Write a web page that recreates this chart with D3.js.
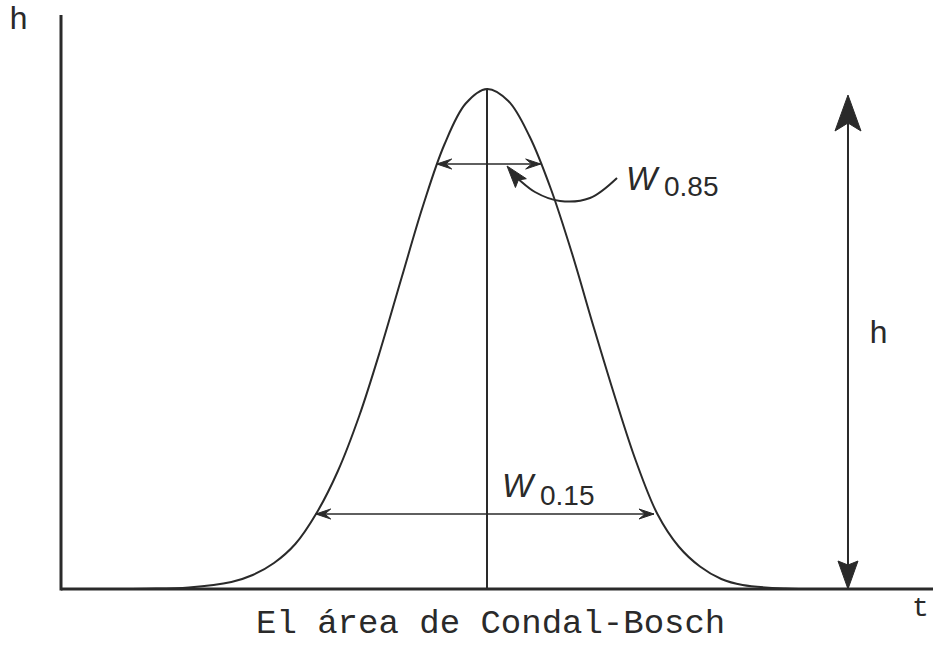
<!DOCTYPE html>
<html>
<head>
<meta charset="utf-8">
<script src="https://cdn.jsdelivr.net/npm/d3@7"></script>
<style>
  html, body { margin: 0; background: #fff; }
  svg { display: block; }
</style>
</head>
<body>
<svg id="chart" width="933" height="645"></svg>
<script>
// Chromatographic peak: time (arbitrary units) and relative height h
const curveT = [0.3, 1.0, 1.5, 2.0, 2.25, 2.5, 2.75, 3.0, 3.25, 3.5, 3.75, 4.0, 4.25, 4.5, 4.75,
                5.0, 5.25, 5.5, 5.75, 6.0, 6.25, 6.5, 6.75, 7.0, 7.25, 7.5, 7.75, 8.0, 8.5, 9.0];
const curveH = [0, 0.0005, 0.003, 0.014, 0.028, 0.052, 0.09, 0.152, 0.236, 0.346, 0.479, 0.624, 0.767, 0.889, 0.971,
                1.0, 0.976, 0.905, 0.80, 0.67, 0.525, 0.385, 0.255, 0.15, 0.085, 0.045, 0.02, 0.008, 0.001, 0];

// Peak apex position
const apexT = 5.0;
const apexH = 1.0;

// Widths measured at fractions of the peak height
const widthLevels = [0.85, 0.15];
const widthStart  = [4.41, 2.99];
const widthEnd    = [5.63, 6.96];
const widthNames  = ["0.85", "0.15"];

// Height marker (double arrow) on the right
const heightArrowT = 9.237;
const heightArrowH = [0, 0.988];

// Leader line from the W0.85 label to its arrow
const leaderT = [6.526, 6.209, 5.857, 5.563, 5.33];
const leaderH = [0.822, 0.782, 0.776, 0.794, 0.826];
const leaderTip = [5.235, 0.846];

const titleText = "El área de Condal-Bosch";
const yAxisLabel = "h";
const xAxisLabel = "t";
const heightLabel = "h";

const svg = d3.select("#chart");
const W = 933, H = 645;

const x = d3.scaleLinear().domain([0, 10]).range([61, 913]);
const y = d3.scaleLinear().domain([0, 1]).range([589, 89]);

const ink = "#2a2a2a";

// Axes: plain lines, no ticks
svg.append("line")
  .attr("x1", x(0)).attr("x2", W)
  .attr("y1", y(0)).attr("y2", y(0))
  .attr("stroke", ink).attr("stroke-width", 3);
svg.append("line")
  .attr("x1", x(0)).attr("x2", x(0))
  .attr("y1", y(0) + 1.5).attr("y2", y(1.148))
  .attr("stroke", ink).attr("stroke-width", 3);

// Peak curve
const pts = curveT.map((t, i) => [t, curveH[i]]);
svg.append("path")
  .datum(pts)
  .attr("fill", "none")
  .attr("stroke", ink)
  .attr("stroke-width", 2)
  .attr("d", d3.line().x(d => x(d[0])).y(d => y(Math.max(0, d[1]))).curve(d3.curveCatmullRom.alpha(0.5)));

// Vertical line through the apex
svg.append("line")
  .attr("x1", x(apexT)).attr("x2", x(apexT))
  .attr("y1", y(apexH)).attr("y2", y(0))
  .attr("stroke", ink).attr("stroke-width", 2);

// Arrowhead helper: tip at (tx, ty), pointing along angle (radians)
function arrowHead(tx, ty, ang, len, halfW, notch) {
  const ux = Math.cos(ang), uy = Math.sin(ang);
  const px = -uy, py = ux;
  const bx = tx - ux * len, by = ty - uy * len;
  const nx = tx - ux * (len - notch), ny = ty - uy * (len - notch);
  const p = [
    [tx, ty],
    [bx + px * halfW, by + py * halfW],
    [nx, ny],
    [bx - px * halfW, by - py * halfW]
  ];
  svg.append("path")
    .attr("d", "M" + p.map(q => q.join(",")).join("L") + "Z")
    .attr("fill", ink).attr("stroke", ink).attr("stroke-width", 1)
    .attr("stroke-linejoin", "miter");
}

// Width arrows
widthLevels.forEach((lv, i) => {
  const yy = y(lv);
  const x1 = x(widthStart[i]), x2 = x(widthEnd[i]);
  svg.append("line")
    .attr("x1", x1).attr("x2", x2).attr("y1", yy).attr("y2", yy)
    .attr("stroke", ink).attr("stroke-width", 1.6);
  arrowHead(x1, yy, Math.PI, 15, 5, 6);
  arrowHead(x2, yy, 0, 15, 5, 6);
});

// Height double arrow
{
  const hx = x(heightArrowT);
  svg.append("line")
    .attr("x1", hx).attr("x2", hx)
    .attr("y1", y(heightArrowH[0])).attr("y2", y(heightArrowH[1]) + 10)
    .attr("stroke", ink).attr("stroke-width", 2);
  arrowHead(hx, y(heightArrowH[1]), -Math.PI / 2, 36, 13, 8);
  arrowHead(hx, y(heightArrowH[0]), Math.PI / 2, 28, 10, 4);
}

// Leader curve with arrowhead
{
  const lp = leaderT.map((t, i) => [x(t), y(leaderH[i])]);
  svg.append("path")
    .attr("d", d3.line().curve(d3.curveCatmullRom)(lp))
    .attr("fill", "none").attr("stroke", ink).attr("stroke-width", 2);
  const last = lp[lp.length - 1];
  const tip = [x(leaderTip[0]), y(leaderTip[1])];
  const ang = Math.atan2(tip[1] - last[1], tip[0] - last[0]);
  arrowHead(tip[0], tip[1], ang, 22, 7, 4);
}

// W labels
const wLabelPos = [
  { wx: 626, wy: 190, sx: 664, sy: 196 },
  { wx: 502, wy: 497, sx: 540, sy: 505 }
];
widthNames.forEach((nm, i) => {
  const p = wLabelPos[i];
  svg.append("text")
    .attr("x", p.wx).attr("y", p.wy)
    .attr("font-family", "Liberation Sans, Arial, sans-serif")
    .attr("font-style", "italic")
    .attr("font-size", 33)
    .attr("fill", ink)
    .text("W");
  svg.append("text")
    .attr("x", p.sx).attr("y", p.sy)
    .attr("font-family", "Liberation Sans, Arial, sans-serif")
    .attr("font-size", 28)
    .attr("fill", ink)
    .text(nm);
});

// Text labels
const mono = "Liberation Mono, Courier New, monospace";
svg.append("text")
  .attr("x", 9).attr("y", 29)
  .attr("font-family", mono).attr("font-size", 32).attr("fill", ink)
  .text(yAxisLabel);
svg.append("text")
  .attr("x", 869).attr("y", 343)
  .attr("font-family", mono).attr("font-size", 32).attr("fill", ink)
  .text(heightLabel);
svg.append("text")
  .attr("x", 912).attr("y", 616)
  .attr("font-family", mono).attr("font-size", 28).attr("fill", ink)
  .text(xAxisLabel);
svg.append("text")
  .attr("x", 256).attr("y", 633)
  .attr("font-family", mono).attr("font-size", 34).attr("fill", ink)
  .text(titleText);
</script>
</body>
</html>
